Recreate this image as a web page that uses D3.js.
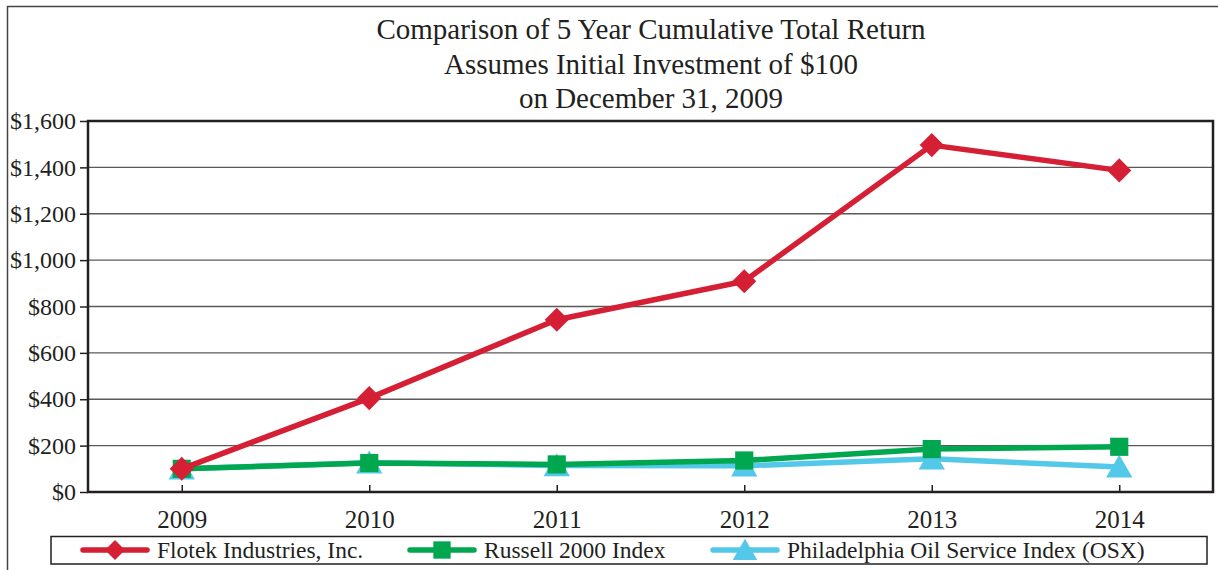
<!DOCTYPE html>
<html><head><meta charset="utf-8">
<script src="https://cdn.jsdelivr.net/npm/d3@7"></script>
<style>body{margin:0;background:#fff}svg{display:block}text{font-family:"Liberation Serif","Times New Roman",serif;fill:#231f20}</style>
</head><body>
<svg id="c" width="1218" height="570"></svg>
<script>
const years = ["2009","2010","2011","2012","2013","2014"];
const flotek = [100, 405, 743, 909, 1496, 1387];
const russell = [100, 125, 119, 136, 185, 195];
const osx = [100, 126, 114, 113, 143, 108];
const yTicks = [0,200,400,600,800,1000,1200,1400,1600];
const titleLines = ["Comparison of 5 Year Cumulative Total Return","Assumes Initial Investment of $100","on December 31, 2009"];
const seriesNames = ["Flotek Industries, Inc.","Russell 2000 Index","Philadelphia Oil Service Index (OSX)"];
const colors = ["#d51f35","#00a74f","#53c8e9"];

const svg = d3.select("#c");
const L=88,R=1213,T=121,B=492;
svg.append("path").attr("d","M7.5,600 V6.5 H1230").attr("fill","none").attr("stroke","#444").attr("stroke-width",1.5);

const titleY=[39,74,108];
titleLines.forEach((t,i)=>svg.append("text").attr("x",651).attr("y",titleY[i]).attr("text-anchor","middle").style("font-size","29px").text(t));

const x = d3.scalePoint().domain(years).range([L,R]).padding(0.5);
const y = d3.scaleLinear().domain([0,1600]).range([B,T]);

svg.append("g").selectAll("line").data(yTicks.slice(1,-1)).join("line")
 .attr("x1",L).attr("x2",R).attr("y1",d=>y(d)).attr("y2",d=>y(d)).attr("stroke","#5a5a5a").attr("stroke-width",1.4);

const ya = svg.append("g").attr("transform",`translate(${L},0)`).call(d3.axisLeft(y).tickValues(yTicks).tickSize(8).tickPadding(4).tickFormat(d=>"$"+d3.format(",")(d)));
ya.select(".domain").remove();
ya.selectAll("line").attr("stroke","#231f20").attr("stroke-width",1.5);
ya.selectAll("text").style("font-size","24px").attr("font-family",null).attr("fill","#231f20");

const xa = svg.append("g").attr("transform",`translate(0,${B})`).call(d3.axisBottom(x).tickSize(-7).tickPadding(18));
xa.select(".domain").remove();
xa.selectAll("line").attr("stroke","#231f20").attr("stroke-width",1.5);
xa.selectAll("text").style("font-size","25px").attr("font-family",null).attr("fill","#231f20");

svg.append("rect").attr("x",L).attr("y",T).attr("width",R-L).attr("height",B-T).attr("fill","none").attr("stroke","#231f20").attr("stroke-width",2.5);

const data=[flotek,russell,osx];
const symbols=[d3.symbolSquare,d3.symbolSquare,d3.symbolTriangle];
const sizes=[290,330,300];
const line=d3.line().x((d,i)=>x(years[i])).y(d=>y(d));
[2,1,0].forEach(k=>{
  const g=svg.append("g");
  g.append("path").attr("d",line(data[k])).attr("fill","none").attr("stroke",colors[k]).attr("stroke-width",5.5).attr("stroke-linejoin","round");
  g.selectAll("path.m").data(data[k]).join("path").attr("class","m")
   .attr("transform",(d,i)=>`translate(${x(years[i])},${y(d)+(k===2?3:0)})${k===0?" rotate(45)":""}`)
   .attr("d",d3.symbol(symbols[k],sizes[k])).attr("fill",colors[k]);
});

svg.append("rect").attr("x",51).attr("y",536.5).attr("width",1156).attr("height",27.5).attr("fill","#fff").attr("stroke","#231f20").attr("stroke-width",1.5);
const legX=[83,410,713];
seriesNames.forEach((n,k)=>{
  const g=svg.append("g").attr("transform",`translate(${legX[k]},550)`);
  g.append("line").attr("x1",0).attr("x2",64).attr("stroke",colors[k]).attr("stroke-width",5.5).attr("stroke-linecap","round");
  g.append("path").attr("transform",`translate(32,${k===2?3:0})${k===0?" rotate(45)":""}`).attr("d",d3.symbol(symbols[k],k===0?200:k===1?300:260)).attr("fill",colors[k]);
  g.append("text").attr("x",74).attr("y",8).style("font-size","23.5px").text(n);
});
</script>
</body></html>
